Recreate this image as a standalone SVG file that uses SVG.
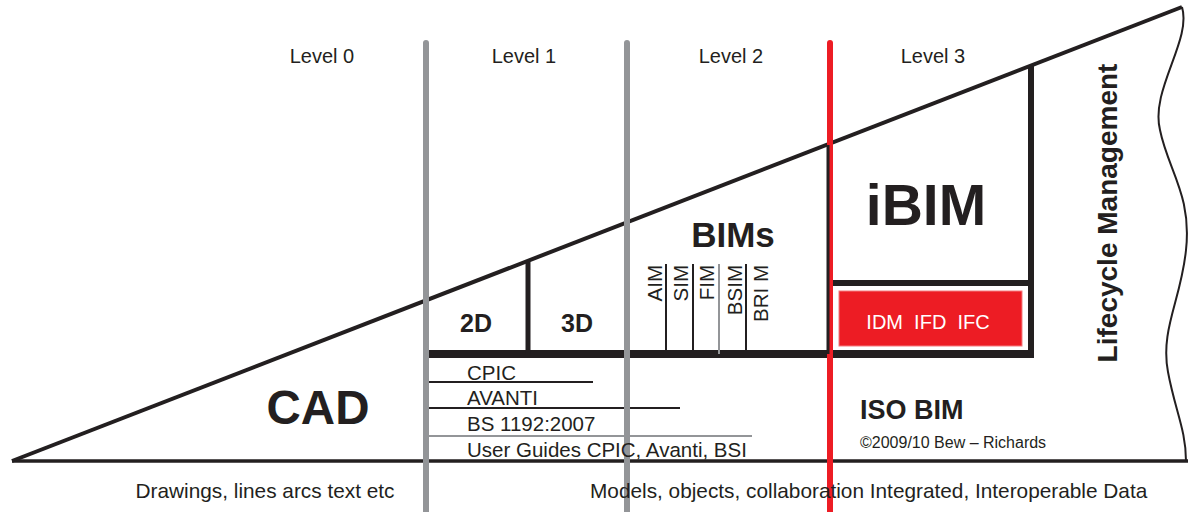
<svg xmlns="http://www.w3.org/2000/svg" width="1193" height="512" viewBox="0 0 1193 512">
<style>
text{font-family:"Liberation Sans",Arial,sans-serif;fill:#231f20}
.lvl{font-size:20px;text-anchor:middle}
.b{font-weight:bold}
.std{font-size:20.5px}
.bot{font-size:20.8px}
.rot{font-size:20.5px;text-anchor:end}
.blk{stroke:#231f20;fill:none}
</style>
<rect width="1193" height="512" fill="#fff"/>
<g id="connectors">
<path class="blk" d="M12,461 L1182,7" stroke-width="4"/>
<path class="blk" d="M1182,7 C1192,40 1150,90 1160,130 C1168,170 1192,195 1186,250 C1181,300 1160,330 1168,372 C1175,410 1186,430 1186,461" stroke-width="2"/>
<path class="blk" d="M12,461 L1188,461" stroke-width="3.5"/>
<path class="blk" d="M426,354 L1034,354" stroke-width="8"/>
<path class="blk" d="M528,262 L528,354" stroke-width="5"/>
<path class="blk" d="M1031,66 L1031,358" stroke-width="6"/>
<path class="blk" d="M830,283 L1034,283" stroke-width="6"/>
<path class="blk" d="M666,264 L666,354 M693,264 L693,354 M746,264 L746,354" stroke-width="2"/>
<path d="M719,264 L719,354" stroke="#939598" stroke-width="2"/>
<path class="blk" d="M428,382 L593,382 M428,408 L680,408" stroke-width="1.8"/>
<path d="M428,436 L752,436" stroke="#939598" stroke-width="1.8"/>
<path d="M426,43 L426,512 M627,43 L627,512" stroke="#939598" stroke-width="6" stroke-linecap="round"/>
<path d="M830,43 L830,512" stroke="#ed1c24" stroke-width="6" stroke-linecap="round"/>
<path class="blk" d="M828,145 L828,354" stroke-width="3"/>
</g>
<g id="levels">
<text class="lvl" x="322" y="63">Level 0</text>
<text class="lvl" x="524" y="63">Level 1</text>
<text class="lvl" x="731" y="63">Level 2</text>
<text class="lvl" x="933" y="63">Level 3</text>
</g>
<g id="cad"><text class="b" x="318" y="424" font-size="47.5" text-anchor="middle">CAD</text></g>
<g id="n2d"><text class="b" x="476" y="332" font-size="25" text-anchor="middle">2D</text></g>
<g id="n3d"><text class="b" x="577" y="332" font-size="25" text-anchor="middle">3D</text></g>
<g id="bims"><text class="b" x="733" y="247" font-size="35" text-anchor="middle">BIMs</text>
<text class="rot" transform="translate(662,265) rotate(-90)">AIM</text>
<text class="rot" transform="translate(688,265) rotate(-90)">SIM</text>
<text class="rot" transform="translate(714,265) rotate(-90)">FIM</text>
<text class="rot" transform="translate(742,265) rotate(-90)">BSIM</text>
<text class="rot" transform="translate(768,265) rotate(-90)">BRI M</text>
</g>
<g id="ibim"><text class="b" x="926" y="225" font-size="57" text-anchor="middle">iBIM</text></g>
<g id="idm">
<rect x="839" y="291" width="183" height="55" fill="#ed1c24" stroke="#f47a7f" stroke-width="1"/>
<text x="928" y="329" font-size="20" text-anchor="middle" xml:space="preserve" style="fill:#fff">IDM  IFD  IFC</text>
</g>
<g id="lifecycle"><text class="b" font-size="28" text-anchor="middle" transform="translate(1117,213) rotate(-90)">Lifecycle Management</text></g>
<g id="standards">
<text class="std" x="467" y="380">CPIC</text>
<text class="std" x="467" y="405">AVANTI</text>
<text class="std" x="467" y="431">BS 1192:2007</text>
<text class="std" x="467" y="457">User Guides CPIC, Avanti, BSI</text>
</g>
<g id="isobim"><text class="b" x="860" y="419" font-size="27">ISO BIM</text>
<text x="860" y="448" font-size="16">©2009/10 Bew – Richards</text></g>
<g id="bottom">
<text class="bot" x="265" y="498" text-anchor="middle">Drawings, lines arcs text etc</text>
<text class="bot" x="590" y="498">Models, objects, collaboration Integrated, Interoperable Data</text>
</g>
</svg>
